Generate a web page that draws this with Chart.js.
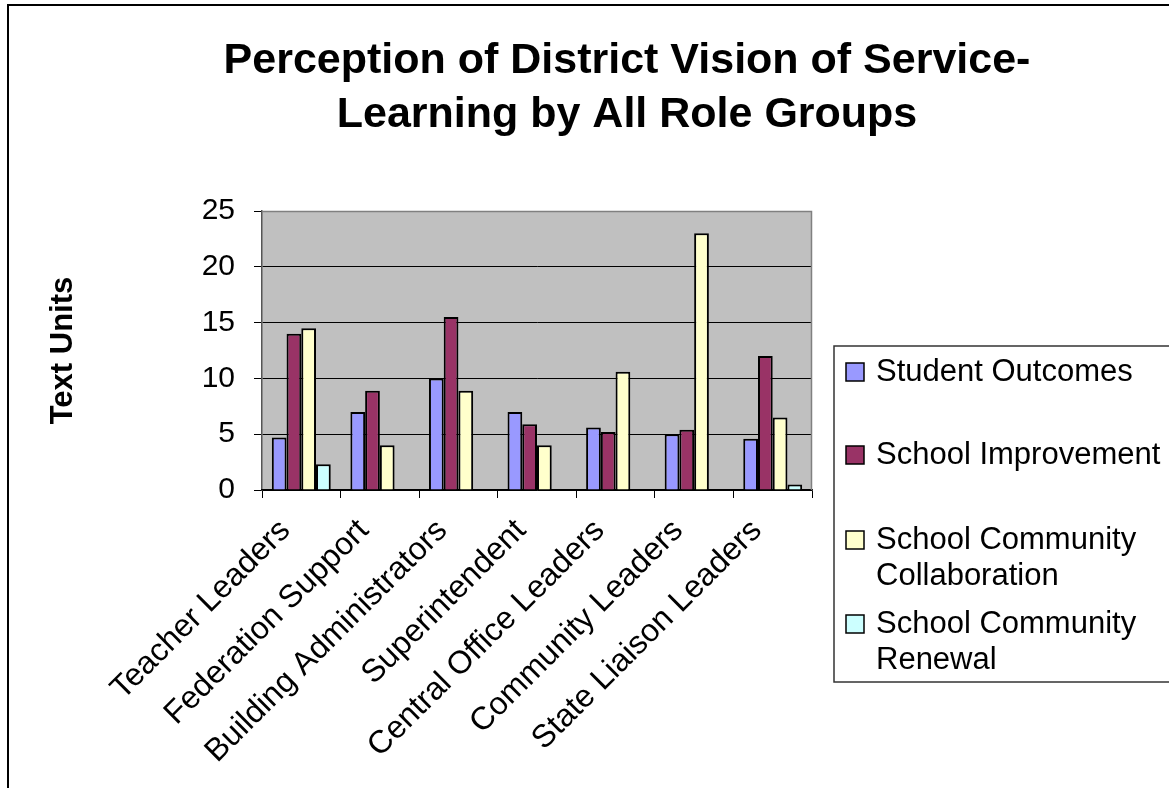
<!DOCTYPE html>
<html>
<head>
<meta charset="utf-8">
<script src="https://cdn.jsdelivr.net/npm/chart.js@4.4.1/dist/chart.umd.min.js"></script>
<style>
  html, body { margin: 0; padding: 0; background: #fff; }
  #wrap { width: 1169px; height: 788px; position: relative; }
</style>
</head>
<body>
<div id="wrap"><canvas id="c" width="1169" height="788"></canvas></div>
<script>
const categories = ["Teacher Leaders", "Federation Support", "Building Administrators", "Superintendent", "Central Office Leaders", "Community Leaders", "State Liaison Leaders"];
const seriesNames = ["Student Outcomes", "School Improvement", "School Community Collaboration", "School Community Renewal"];
const legendLines = [["Student Outcomes"], ["School Improvement"], ["School Community", "Collaboration"], ["School Community", "Renewal"]];
const studentOutcomes = [4.7, 7.0, 10.0, 7.0, 5.6, 5.0, 4.6];
const schoolImprovement = [14.0, 8.9, 15.5, 5.9, 5.2, 5.4, 12.0];
const schoolCommunityCollaboration = [14.5, 4.0, 8.9, 4.0, 10.6, 23.0, 6.5];
const schoolCommunityRenewal = [2.3, 0, 0, 0, 0, 0, 0.5];
const yTicks = [0, 5, 10, 15, 20, 25];
const titleLines = ["Perception of District Vision of Service-", "Learning by All Role Groups"];
const yAxisTitle = "Text Units";
const colors = ["#9999FF", "#993366", "#FFFFCC", "#CCFFFF"];

const FONT = '"Liberation Sans", Arial, sans-serif';

const decorPlugin = {
  id: 'decor',
  beforeDraw(chart) {
    const ctx = chart.ctx;
    const a = chart.chartArea;
    ctx.save();
    ctx.fillStyle = '#fff';
    ctx.fillRect(0, 0, chart.width, chart.height);
    ctx.fillStyle = '#C0C0C0';
    ctx.fillRect(a.left, a.top, a.right - a.left, a.bottom - a.top);
    ctx.restore();
  },
  afterDraw(chart) {
    const ctx = chart.ctx;
    const a = chart.chartArea;
    ctx.save();
    ctx.strokeStyle = '#808080';
    ctx.lineWidth = 1.5;
    ctx.beginPath();
    ctx.moveTo(a.left, a.top + 0.5);
    ctx.lineTo(a.right - 0.5, a.top + 0.5);
    ctx.lineTo(a.right - 0.5, a.bottom);
    ctx.stroke();
    ctx.strokeStyle = '#000';
    ctx.lineWidth = 2;
    ctx.strokeRect(8, 5, 1300, 1000);
    ctx.fillStyle = '#000';
    ctx.font = 'bold 43px ' + FONT;
    ctx.textAlign = 'center';
    ctx.textBaseline = 'alphabetic';
    ctx.fillText(titleLines[0], 627, 73);
    ctx.fillText(titleLines[1], 627, 127);
    ctx.strokeStyle = '#333';
    ctx.lineWidth = 1.5;
    ctx.strokeRect(834, 346, 400, 336);
    const itemY = [[372], [455], [540, 576], [624, 660]];
    ctx.font = '31px ' + FONT;
    ctx.textAlign = 'left';
    ctx.textBaseline = 'middle';
    chart.data.datasets.forEach((ds, i) => {
      const y0 = itemY[i][0];
      ctx.fillStyle = ds.backgroundColor;
      ctx.fillRect(846, y0 - 9, 18, 18);
      ctx.strokeStyle = '#000';
      ctx.lineWidth = 1.5;
      ctx.strokeRect(846, y0 - 9, 18, 18);
      ctx.fillStyle = '#000';
      legendLines[i].forEach((t, j) => ctx.fillText(t, 876, itemY[i][j]));
    });
    ctx.restore();
  }
};

const datasets = [studentOutcomes, schoolImprovement, schoolCommunityCollaboration, schoolCommunityRenewal].map((d, i) => ({
  label: seriesNames[i],
  data: d,
  backgroundColor: colors[i],
  borderColor: '#000',
  borderWidth: 2,
  categoryPercentage: 0.75,
  barPercentage: 1.0
}));

new Chart(document.getElementById('c'), {
  type: 'bar',
  data: { labels: categories, datasets },
  options: {
    responsive: false,
    animation: false,
    devicePixelRatio: 1,
    layout: { padding: { top: 211, right: 357, left: 0, bottom: 0 } },
    plugins: { legend: { display: false }, title: { display: false }, tooltip: { enabled: false } },
    scales: {
      y: {
        min: 0, max: 25,
        afterFit(s) { s.width = 262; },
        afterBuildTicks(s) { s.ticks = yTicks.map(v => ({ value: v })); },
        ticks: { color: '#000', font: { family: FONT, size: 30 }, padding: 19 },
        grid: { color: '#000', lineWidth: 1, tickLength: 8, tickColor: '#000' },
        border: { display: true, color: '#555', width: 1.5 },
        title: { display: true, text: yAxisTitle, color: '#000', font: { family: FONT, size: 31, weight: 'bold' }, padding: { top: 45, bottom: 0 } }
      },
      x: {
        afterFit(s) { s.height = 298; },
        ticks: { color: '#000', font: { family: FONT, size: 32 }, minRotation: 45, maxRotation: 45, padding: 14, labelOffset: -16, autoSkip: false },
        grid: { drawOnChartArea: false, offset: true, tickLength: 8, color: '#000', tickColor: '#000' },
        border: { display: true, color: '#000', width: 1.5 }
      }
    }
  },
  plugins: [decorPlugin]
});
</script>
</body>
</html>
